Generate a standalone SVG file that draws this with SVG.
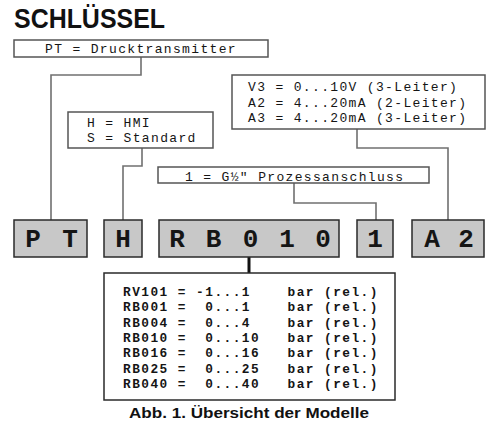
<svg xmlns="http://www.w3.org/2000/svg" width="498" height="432" viewBox="0 0 498 432">
<style>
.bg{fill:#fff}
.lbl{fill:#fff;stroke:#555;stroke-width:1.5}
.key{fill:#c8c8c8;stroke:#2a2a2a;stroke-width:1.5}
.mono{font-family:"Liberation Mono","Courier New",monospace;font-size:13px;letter-spacing:1.34px;fill:#151515}
.monob{font-family:"Liberation Mono","Courier New",monospace;font-size:12.8px;letter-spacing:1.46px;font-weight:bold;fill:#151515}
.big{font-family:"Liberation Mono","Courier New",monospace;font-size:26px;font-weight:bold;fill:#151515;text-anchor:middle}
.conn{fill:none;stroke:#707070;stroke-width:1.6}
</style>
<rect class="bg" x="0" y="0" width="498" height="432"/>
<text x="14" y="28" font-family="'Liberation Sans',Arial,sans-serif" font-weight="bold" font-size="28" fill="#111" textLength="151" lengthAdjust="spacingAndGlyphs">SCHLÜSSEL</text>
<g id="connectors">
<polyline class="conn" points="141,57 141,75 51,75 51,220"/>
<polyline class="conn" points="142,148 142,166 123,166 123,220"/>
<polyline class="conn" points="294,183 294,203 376,203 376,220"/>
<polyline class="conn" points="357,129 357,148 448,148 448,220"/>
<line x1="249" y1="257" x2="249" y2="273" stroke="#111" stroke-width="3"/>
</g>
<g id="pt-label">
<rect class="lbl" x="14" y="40" width="254" height="17"/>
<text class="mono" x="45" y="53">PT = Drucktransmitter</text>
</g>
<g id="h-label">
<rect class="lbl" x="68" y="112" width="145" height="36"/>
<text class="mono" x="87" y="127">H = HMI</text>
<text class="mono" x="87" y="142">S = Standard</text>
</g>
<g id="out-label">
<rect class="lbl" x="232" y="75" width="253" height="54"/>
<text class="mono" x="248" y="91">V3 = 0...10V (3-Leiter)</text>
<text class="mono" x="248" y="107">A2 = 4...20mA (2-Leiter)</text>
<text class="mono" x="248" y="122">A3 = 4...20mA (3-Leiter)</text>
</g>
<g id="conn-label">
<rect class="lbl" x="158" y="167" width="271" height="16"/>
<text class="mono" x="185" y="181">1 = G½″ Prozessanschluss</text>
</g>
<g id="key-pt">
<rect class="key" x="14" y="220" width="73" height="37"/>
<text class="big" x="33 70" y="247">PT</text>
</g>
<g id="key-h">
<rect class="key" x="104" y="220" width="38" height="37"/>
<text class="big" x="123" y="247">H</text>
</g>
<g id="key-rb">
<rect class="key" x="159" y="220" width="180" height="37"/>
<text class="big" x="177 213.5 250.5 287 323" y="247">RB010</text>
</g>
<g id="key-1">
<rect class="key" x="357" y="220" width="36" height="37"/>
<text class="big" x="375" y="247">1</text>
</g>
<g id="key-a2">
<rect class="key" x="412" y="220" width="72" height="37"/>
<text class="big" x="432 466" y="247">A2</text>
</g>
<g id="range-label">
<rect x="104" y="273" width="291" height="127" fill="#fff" stroke="#2a2a2a" stroke-width="1.5"/>
<text class="monob" x="123" y="296" xml:space="preserve">RV101 = -1...1    bar (rel.)</text>
<text class="monob" x="123" y="311" xml:space="preserve">RB001 =  0...1    bar (rel.)</text>
<text class="monob" x="123" y="327" xml:space="preserve">RB004 =  0...4    bar (rel.)</text>
<text class="monob" x="123" y="342" xml:space="preserve">RB010 =  0...10   bar (rel.)</text>
<text class="monob" x="123" y="357" xml:space="preserve">RB016 =  0...16   bar (rel.)</text>
<text class="monob" x="123" y="373" xml:space="preserve">RB025 =  0...25   bar (rel.)</text>
<text class="monob" x="123" y="388" xml:space="preserve">RB040 =  0...40   bar (rel.)</text>
</g>
<text x="129" y="418" font-family="'Liberation Sans',Arial,sans-serif" font-weight="bold" font-size="15.5" fill="#111" textLength="240" lengthAdjust="spacingAndGlyphs">Abb. 1. Übersicht der Modelle</text>
</svg>
